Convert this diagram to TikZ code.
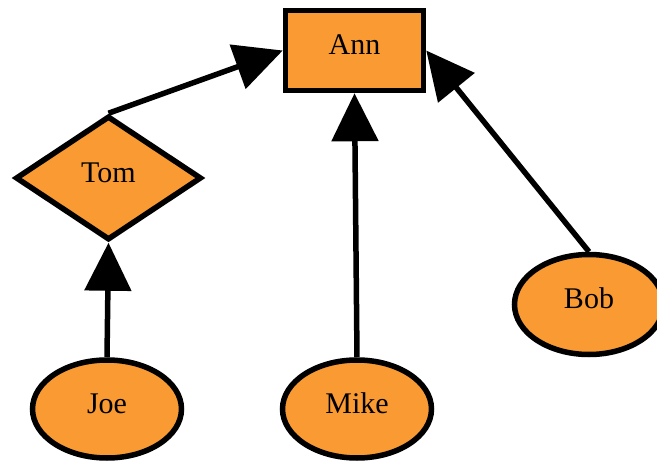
\documentclass[tikz,border=0pt]{standalone}
\usepackage{fontspec}
\setmainfont{Liberation Serif}
\usetikzlibrary{shapes.geometric,arrows.meta}
\definecolor{nodefill}{RGB}{250,154,50}
\tikzset{
  person/.style={draw=black, fill=nodefill, line width=5.5pt, inner sep=0pt,
    font=\fontsize{30}{36}\selectfont, text height=20pt, text depth=12pt},
  boxnode/.style={person, rectangle, minimum width=138pt, minimum height=80pt},
  diamondnode/.style={person, diamond, minimum width=186pt, minimum height=124pt},
  ellipsenode/.style={person, ellipse, minimum width=149pt, minimum height=98pt},
  link/.style={line width=5.5pt, -{Triangle[length=48pt,width=46pt]}}
}
\begin{document}
\begin{tikzpicture}[x=1pt,y=-1pt]
  \useasboundingbox (0,0) rectangle (657,463);
  % nodes
  \node[boxnode] (ann) at (354.5,50.5) {Ann};
  \node[diamondnode] (tom) at (108.5,178) {Tom};
  \node[ellipsenode] (joe) at (107,409) {Joe};
  \node[ellipsenode] (mike) at (357,409) {Mike};
  \node[ellipsenode, minimum height=100pt] (bob) at (589,304.5) {Bob};
  % connectors
  \draw[link] (tom.north) -- (ann.west);
  \draw[link] (mike.north) -- (ann.south);
  \draw[link] (bob.north) -- (ann.east);
  \draw[link] (joe.north) -- (tom.south);
\end{tikzpicture}
\end{document}
